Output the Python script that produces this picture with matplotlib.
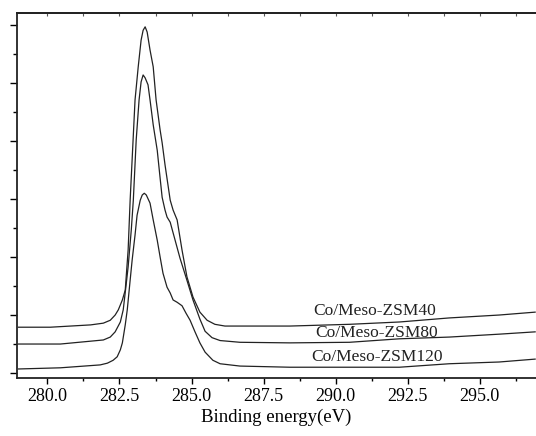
import matplotlib
matplotlib.use("Agg")
import matplotlib.pyplot as plt
from matplotlib.ticker import MultipleLocator, FormatStrFormatter

plt.rcParams['font.family'] = ['Liberation Serif', 'DejaVu Serif']

# XPS C1s spectra, intensity in arbitrary units
ev_40 = [279.0, 280.1, 281.5, 281.94, 282.18, 282.35, 282.46, 282.60, 282.70, 282.80,
         282.87, 283.04, 283.15, 283.25, 283.32, 283.39, 283.46, 283.56, 283.67, 283.77,
         283.91, 283.98, 284.08, 284.26, 284.36, 284.50, 284.67, 284.84, 285.05, 285.29,
         285.54, 285.81, 286.16, 286.68, 288.41, 290.48, 292.21, 293.94, 295.67, 296.92]
int_40 = [0.79, 0.79, 0.83, 0.86, 0.91, 1.00, 1.09, 1.26, 1.43, 2.12,
          2.98, 4.71, 5.28, 5.74, 5.91, 5.97, 5.88, 5.57, 5.28, 4.71,
          4.19, 3.97, 3.59, 2.98, 2.81, 2.64, 2.12, 1.66, 1.31, 1.05,
          0.91, 0.84, 0.81, 0.81, 0.81, 0.84, 0.88, 0.95, 1.00, 1.05]

ev_80 = [279.0, 280.45, 281.94, 282.18, 282.35, 282.53, 282.63, 282.73, 282.80, 282.91,
         282.98, 283.08, 283.18, 283.25, 283.32, 283.39, 283.49, 283.56, 283.67, 283.81,
         283.91, 283.98, 284.08, 284.15, 284.26, 284.43, 284.60, 284.84, 285.05, 285.29,
         285.47, 285.71, 285.99, 286.68, 288.41, 290.48, 292.21, 293.94, 295.67, 296.92]
int_80 = [0.50, 0.50, 0.57, 0.62, 0.71, 0.88, 1.09, 1.52, 1.83, 2.47,
          2.98, 4.02, 4.71, 5.02, 5.14, 5.09, 4.97, 4.71, 4.28, 3.84,
          3.36, 3.03, 2.81, 2.69, 2.60, 2.29, 1.98, 1.60, 1.26, 0.93,
          0.72, 0.61, 0.56, 0.53, 0.52, 0.53, 0.59, 0.62, 0.67, 0.71]

ev_120 = [279.0, 280.45, 281.83, 282.08, 282.28, 282.42, 282.53, 282.60, 282.70, 282.77,
          282.87, 282.94, 283.04, 283.11, 283.22, 283.29, 283.36, 283.43, 283.56, 283.67,
          283.81, 283.91, 284.01, 284.15, 284.26, 284.36, 284.50, 284.67, 284.81, 284.95,
          285.12, 285.29, 285.47, 285.74, 285.99, 286.68, 288.41, 290.48, 292.21, 293.94,
          295.67, 296.92]
int_120 = [0.07, 0.09, 0.14, 0.17, 0.22, 0.28, 0.40, 0.52, 0.83, 1.09,
           1.60, 1.95, 2.38, 2.72, 2.98, 3.07, 3.10, 3.07, 2.93, 2.64,
           2.29, 2.00, 1.72, 1.48, 1.38, 1.26, 1.22, 1.16, 1.03, 0.91,
           0.71, 0.52, 0.36, 0.22, 0.16, 0.12, 0.10, 0.10, 0.10, 0.16,
           0.19, 0.24]

labels = ['Co/Meso-ZSM40', 'Co/Meso-ZSM80', 'Co/Meso-ZSM120']
label_pos = [(291.35, 1.07), (291.42, 0.69), (291.42, 0.28)]

fig = plt.figure(figsize=(5.36, 4.36), dpi=100)
ax = fig.add_axes([0.032, 0.133, 0.968, 0.837])

for xs, ys in [(ev_40, int_40), (ev_80, int_80), (ev_120, int_120)]:
    ax.plot(xs, ys, color='#222222', lw=0.9)

for text, (x, y) in zip(labels, label_pos):
    ax.text(x, y, text, ha='center', va='center', fontsize=12.5, color='#222222')

ax.set_xlim(278.95, 296.95)
ax.set_ylim(-0.086, 6.207)

ax.xaxis.set_major_locator(MultipleLocator(2.5))
ax.xaxis.set_minor_locator(MultipleLocator(1.25))
ax.yaxis.set_major_locator(MultipleLocator(1))
ax.yaxis.set_minor_locator(MultipleLocator(0.5))
ax.set_yticklabels([])
ax.xaxis.set_major_formatter(FormatStrFormatter('%.1f'))

ax.tick_params(axis='x', which='major', direction='out', length=4.5, width=1.0,
               labelsize=13, pad=3)
ax.tick_params(axis='x', which='minor', direction='out', length=2.5, width=1.0)
ax.tick_params(axis='y', which='major', direction='out', length=5, width=1.0)
ax.tick_params(axis='y', which='minor', direction='out', length=3, width=1.0)

# short inward ticks along the top edge
top = ax.secondary_xaxis('top')
top.xaxis.set_major_locator(MultipleLocator(1.25))
top.tick_params(direction='in', length=2, width=0.8, labeltop=False, colors='#555555')
top.spines['top'].set_linewidth(1.3)
top.spines['top'].set_color('#222222')

ax.spines['right'].set_visible(False)
for side in ['left', 'bottom', 'top']:
    ax.spines[side].set_linewidth(1.3)
    ax.spines[side].set_color('#222222')

ax.set_xlabel('Binding energy(eV)', fontsize=13.5, labelpad=2)

fig.savefig('out.png', dpi=100)
